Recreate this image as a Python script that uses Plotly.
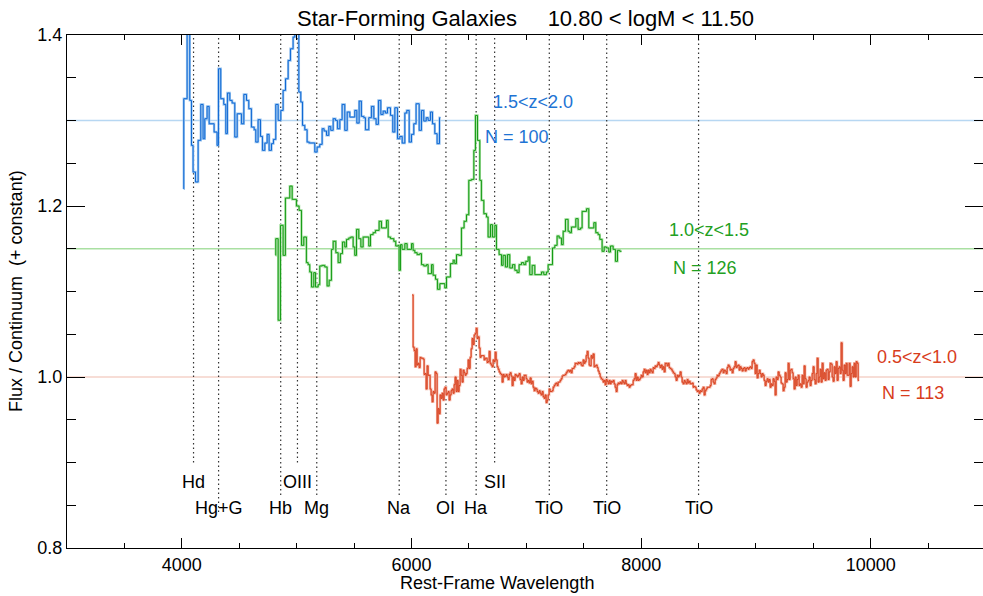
import plotly.graph_objects as go

# ---------------------------------------------------------------------------
# Stacked composite spectra (flux / continuum, offset by a constant)
# ---------------------------------------------------------------------------

# 1.5 < z < 2.0  (offset +0.30): left bin edges [A] and flux per bin
BLUE_LEFT = [4016, 4017, 4046, 4069, 4084, 4098, 4119, 4142, 4165, 4185,
             4200, 4220, 4238, 4281, 4307, 4319, 4339, 4365, 4383, 4397,
             4418, 4438, 4461, 4482, 4519, 4540, 4563, 4583, 4606, 4630,
             4644, 4664, 4685, 4702, 4723, 4743, 4760, 4781, 4798, 4818,
             4839, 4862, 4882, 4903, 4926, 4946, 4969, 4984, 5007, 5019,
             5036, 5051, 5071, 5091, 5109, 5158, 5178, 5201, 5222, 5239,
             5260, 5280, 5297, 5318, 5338, 5355, 5376, 5396, 5419, 5440,
             5463, 5506, 5524, 5544, 5564, 5585, 5599, 5628, 5651, 5672,
             5692, 5712, 5733, 5753, 5773, 5791, 5817, 5837, 5855, 5878,
             5898, 5919, 5942, 5959, 5980, 6000, 6020, 6040, 6067, 6087,
             6107, 6128, 6145, 6165, 6183, 6203, 6223, 6244]
BLUE_END = 6252
BLUE_FLUX = [1.2200, 1.3255, 1.4600, 1.3235, 1.2709, 1.2398, 1.2281, 1.2768, 1.3188, 1.2787,
             1.3021, 1.3165, 1.2962, 1.2865, 1.2709, 1.3605, 1.3255, 1.3188, 1.2846, 1.3321,
             1.3235, 1.3204, 1.2807, 1.3079, 1.2962, 1.3305, 1.3235, 1.3138, 1.2923, 1.2892,
             1.2748, 1.3009, 1.2814, 1.2651, 1.2736, 1.2838, 1.2651, 1.2729, 1.2779, 1.3188,
             1.3001, 1.3118, 1.3352, 1.3488, 1.3702, 1.3839, 1.3975, 1.4500, 1.4200, 1.3332,
             1.3216, 1.2943, 1.2892, 1.2748, 1.2737, 1.2631, 1.2690, 1.2721, 1.2904, 1.2877,
             1.2826, 1.2931, 1.2885, 1.3021, 1.3001, 1.2904, 1.3009, 1.3188, 1.2885, 1.3099,
             1.3040, 1.3118, 1.2970, 1.3227, 1.3048, 1.3033, 1.2892, 1.3033, 1.3165, 1.3021,
             1.2955, 1.3235, 1.3071, 1.3110, 1.3087, 1.3149, 1.3060, 1.2865, 1.3149, 1.2787,
             1.2814, 1.2736, 1.3087, 1.3118, 1.2748, 1.2838, 1.2962, 1.3196, 1.2885, 1.3118,
             1.2994, 1.3033, 1.3001, 1.3099, 1.2962, 1.2846, 1.2729, 1.3033]

# 1.0 < z < 1.5  (offset +0.15)
GREEN_LEFT = [4816, 4818, 4839, 4859, 4882, 4902, 4940, 4961, 4998, 5021,
              5042, 5062, 5085, 5100, 5114, 5129, 5149, 5164, 5187, 5201,
              5222, 5245, 5265, 5283, 5303, 5318, 5341, 5361, 5381, 5399,
              5419, 5434, 5454, 5471, 5492, 5506, 5521, 5541, 5559, 5579,
              5628, 5643, 5666, 5686, 5718, 5739, 5782, 5797, 5817, 5846,
              5863, 5884, 5892, 5904, 5918, 5942, 5962, 6000, 6014, 6029,
              6049, 6072, 6087, 6107, 6130, 6145, 6174, 6188, 6209, 6226,
              6247, 6290, 6305, 6339, 6363, 6377, 6392, 6412, 6435, 6458,
              6479, 6499, 6522, 6543, 6557, 6575, 6595, 6609, 6630, 6653,
              6667, 6688, 6705, 6726, 6740, 6763, 6784, 6798, 6818, 6836,
              6856, 6879, 6900, 6920, 6937, 6958, 6978, 6995, 7016, 7030,
              7051, 7074, 7132, 7152, 7175, 7190, 7228, 7248, 7268, 7286,
              7306, 7321, 7341, 7364, 7379, 7393, 7431, 7451, 7472, 7486,
              7524, 7544, 7588, 7605, 7625, 7640, 7660, 7678, 7698, 7718,
              7733, 7756, 7776, 7794, 7814]
GREEN_END = 7829
GREEN_FLUX = [1.1423, 1.1618, 1.0664, 1.1774, 1.1423, 1.2093, 1.2233, 1.2078, 1.2000, 1.1949,
              1.1540, 1.1637, 1.1338, 1.1314, 1.1228, 1.1053, 1.1221, 1.1053, 1.1080, 1.1299,
              1.1306, 1.1287, 1.1065, 1.1131, 1.1493, 1.1587, 1.1454, 1.1338, 1.1443, 1.1579,
              1.1521, 1.1610, 1.1626, 1.1637, 1.1521, 1.1423, 1.1727, 1.1618, 1.1521, 1.1637,
              1.1532, 1.1665, 1.1688, 1.1715, 1.1821, 1.1743, 1.1832, 1.1637, 1.1618, 1.1587,
              1.1532, 1.1540, 1.1248, 1.1548, 1.1493, 1.1560, 1.1493, 1.1560, 1.1482, 1.1454,
              1.1431, 1.1443, 1.1314, 1.1299, 1.1314, 1.1209, 1.1314, 1.1190, 1.1143, 1.1026,
              1.1092, 1.1042, 1.1170, 1.1326, 1.1365, 1.1326, 1.1431, 1.1423, 1.1743, 1.1821,
              1.1898, 1.2300, 1.2311, 1.2650, 1.3059, 1.2767, 1.2300, 1.2066, 1.1910, 1.1871,
              1.1637, 1.1782, 1.1637, 1.1774, 1.1493, 1.1431, 1.1306, 1.1423, 1.1287, 1.1431,
              1.1275, 1.1314, 1.1248, 1.1221, 1.1314, 1.1338, 1.1314, 1.1353, 1.1404, 1.1197,
              1.1306, 1.1197, 1.1228, 1.1197, 1.1228, 1.1314, 1.1509, 1.1540, 1.1649, 1.1626,
              1.1548, 1.1704, 1.1844, 1.1704, 1.1688, 1.1754, 1.1852, 1.1727, 1.1743, 1.1937,
              1.1968, 1.1743, 1.1805, 1.1688, 1.1665, 1.1610, 1.1470, 1.1521, 1.1509, 1.1462,
              1.1532, 1.1493, 1.1353, 1.1482, 1.1470]

# 0.5 < z < 1.0  (no offset), sampled on a regular wavelength grid
RED_START = 6005.5   # first bin edge [A]
RED_STEP = 8.709     # bin width [A]
RED_FLUX = [
    1.096, 1.035, 1.031, 1.012, 1.033, 1.014, 1.016, 1.011, 1.023, 1.022,
    1.022, 1.021, 1.003, 1.004, 0.986, 1.013, 1.002, 1.002, 0.986, 0.979,
    0.971, 0.983, 0.981, 1.006, 1.004, 0.946, 0.963, 0.957, 0.979, 0.975,
    0.981, 0.973, 0.986, 0.988, 0.979, 0.981, 0.983, 0.973, 0.979, 0.984,
    0.986, 0.981, 0.991, 1.000, 0.983, 0.996, 0.983, 0.990, 1.009, 1.002,
    0.994, 1.008, 1.005, 1.002, 1.004, 1.010, 1.020, 1.010, 1.023, 1.033,
    1.045, 1.038, 1.049, 1.051, 1.057, 1.045, 1.047, 1.034, 1.023, 1.025,
    1.025, 1.025, 1.020, 1.022, 1.022, 1.017, 1.018, 1.030, 1.016, 1.014,
    1.012, 1.020, 1.018, 1.029, 1.020, 1.012, 1.009, 1.006, 1.004, 1.003,
    0.994, 1.003, 1.000, 1.001, 1.003, 1.000, 0.997, 1.003, 1.005, 1.001,
    0.990, 1.000, 0.996, 1.003, 1.002, 1.000, 1.002, 1.004, 0.997, 0.992,
    1.000, 0.996, 1.002, 1.002, 0.998, 0.994, 0.996, 0.993, 0.999, 0.992,
    0.995, 0.988, 0.984, 0.987, 0.986, 0.983, 0.981, 0.984, 0.981, 0.979,
    0.983, 0.977, 0.975, 0.979, 0.970, 0.973, 0.979, 0.986, 0.983, 0.983,
    0.984, 0.988, 0.990, 0.992, 0.993, 0.990, 0.994, 0.994, 0.996, 0.998,
    1.001, 1.002, 1.002, 1.003, 1.005, 1.007, 1.008, 1.006, 1.008, 1.005,
    1.010, 1.010, 1.012, 1.016, 1.016, 1.015, 1.017, 1.016, 1.017, 1.014,
    1.013, 1.020, 1.016, 1.018, 1.025, 1.030, 1.022, 1.014, 1.013, 1.025,
    1.022, 1.027, 1.012, 1.013, 1.014, 1.011, 1.007, 1.004, 1.000, 0.998,
    0.997, 0.994, 0.996, 0.991, 0.997, 0.995, 0.992, 0.996, 0.992, 0.995,
    0.994, 0.996, 0.992, 0.988, 0.983, 0.991, 0.993, 0.992, 0.994, 0.992,
    0.996, 0.994, 0.992, 0.996, 0.992, 0.990, 0.991, 0.988, 0.990, 0.991,
    0.991, 0.996, 0.998, 1.004, 0.996, 1.000, 0.996, 0.997, 0.999, 1.002,
    1.000, 1.006, 1.009, 1.005, 1.008, 1.003, 1.008, 1.005, 1.009, 1.007,
    1.005, 1.011, 1.010, 1.013, 1.012, 1.014, 1.017, 1.014,
    1.011, 1.014, 1.009, 1.012, 1.006, 1.016, 1.016, 1.013, 1.016, 1.011,
    1.010, 1.009, 1.007, 1.005, 1.004, 1.000, 0.996, 1.002, 1.000, 1.002,
    1.006, 1.000, 0.994, 0.992, 0.996, 0.994, 0.992, 0.997, 0.993, 0.995,
    0.992, 0.992, 0.993, 0.988, 0.989, 0.988, 0.985, 0.983, 0.984, 0.981,
    0.984, 0.983, 0.986, 0.988, 0.979, 0.984, 0.986, 0.988, 0.988, 0.988,
    0.990, 0.997, 0.998, 0.994, 0.992, 0.997, 0.999, 1.002, 1.001, 1.004,
    1.006, 1.008, 1.009, 1.005, 1.008, 1.007, 1.004, 1.011, 1.014, 1.012,
    1.008, 1.009, 1.005, 1.010, 1.012, 1.018, 1.011, 1.013, 1.014, 1.008,
    1.012, 1.010, 1.007, 1.010, 1.011, 1.007, 1.010, 1.011, 1.009, 1.011,
    1.012, 1.010, 1.018, 1.020, 1.016, 1.004, 1.014, 0.999, 1.004, 1.008,
    1.004, 1.000, 1.004, 1.002, 0.996, 0.990, 0.995, 0.998, 0.994, 0.997,
    0.988, 0.992, 0.990, 0.998, 0.995, 0.979, 1.000, 0.997, 1.006, 1.002,
    1.000, 0.993, 0.992, 0.984, 0.988, 1.005, 0.994, 0.997, 1.016, 0.997,
    1.008, 1.009, 1.005, 0.998, 0.986, 1.000, 0.990, 0.997, 1.002, 0.990,
    0.992, 0.988, 1.002, 0.992, 1.013, 0.998, 0.988, 0.994, 0.996, 1.000,
    0.990, 0.996, 1.004, 1.012, 0.997, 0.992, 1.004, 1.022, 0.994, 1.000,
    1.009, 0.994, 1.016, 0.998, 1.005, 0.996, 1.008, 1.009, 0.997, 1.006,
    1.016, 1.015, 1.000, 0.995, 1.012, 1.004, 1.018, 0.996, 1.010, 1.012,
    1.004, 1.040, 1.008, 0.996, 1.014, 1.004, 1.016, 1.002, 1.002, 1.016,
    0.989, 1.004, 1.012, 1.000, 1.016, 1.000, 1.018, 1.016, 0.996,
]

# Continuum level of each stacked spectrum
OFFSETS = [1.30, 1.15, 1.00]

# Redshift bin labels and stack sizes
Z_LABELS = ["1.5<z<2.0", "1.0<z<1.5", "0.5<z<1.0"]
N_LABELS = ["N = 100", "N = 126", "N = 113"]
Z_LABEL_POS = [(7056, 1.322), (8589, 1.172), (10400, 1.023)]
N_LABEL_POS = [(6917, 1.281), (8554, 1.127), (10365, 0.981)]

# Spectral features: name, wavelength [A], lower end of marker, label height
LINE_NAMES = ["Hd", "Hg+G", "Hb", "OIII", "Mg", "Na", "OI", "Ha", "SII", "TiO", "TiO", "TiO"]
LINE_WAVE = [4102, 4320, 4861, 5007, 5175, 5893, 6300, 6563, 6724, 7200, 7700, 8500]
LINE_BOTTOM = [0.900, 0.842, 0.862, 0.900, 0.862, 0.862, 0.862, 0.862, 0.900, 0.862, 0.862, 0.862]
LINE_LABEL_Y = [0.877, 0.847, 0.847, 0.877, 0.847, 0.847, 0.847, 0.847, 0.877, 0.847, 0.847, 0.847]

X_RANGE = [3000, 10977]
Y_RANGE = [0.8, 1.4]

COLORS = ["#0f68d4", "#169c16", "#d63a16"]
HALOS = ["#9cc6f0", "#a8e0a3", "#f4b2a2"]
REF_COLORS = ["#b7d7f2", "#a9e0a2", "#f5d2c8"]
TEXT_COLORS = ["#1e74d4", "#22a022", "#d83c1c"]

FONT = "Liberation Sans, Arial, Helvetica, sans-serif"


def step_xy(left, end, flux):
    xs = list(left) + [end]
    ys = list(flux) + [flux[-1]]
    return xs, ys


red_edges = [RED_START + RED_STEP * i for i in range(len(RED_FLUX))]
red_end = RED_START + RED_STEP * len(RED_FLUX)

spectra = [
    step_xy(BLUE_LEFT, BLUE_END, BLUE_FLUX),
    step_xy(GREEN_LEFT, GREEN_END, GREEN_FLUX),
    step_xy(red_edges, red_end, RED_FLUX),
]

fig = go.Figure()

for (xs, ys), col, halo in zip(spectra, COLORS, HALOS):
    fig.add_trace(go.Scatter(x=xs, y=ys, mode="lines", line_shape="hv",
                             line=dict(color=halo, width=2.4),
                             hoverinfo="skip", showlegend=False))
    fig.add_trace(go.Scatter(x=xs, y=ys, mode="lines", line_shape="hv",
                             line=dict(color=col, width=1.0),
                             showlegend=False))

# trace that anchors the mirrored (top / right) tick axes
fig.add_trace(go.Scatter(x=[None], y=[None], xaxis="x2", yaxis="y2",
                         showlegend=False, hoverinfo="skip"))

shapes = []
for level, col in zip(OFFSETS, REF_COLORS):
    shapes.append(dict(type="line", xref="paper", x0=0, x1=1, yref="y",
                       y0=level, y1=level, layer="below",
                       line=dict(color=col, width=1.6)))
for wave, bottom in zip(LINE_WAVE, LINE_BOTTOM):
    shapes.append(dict(type="line", xref="x", x0=wave, x1=wave, yref="y",
                       y0=bottom, y1=Y_RANGE[1], layer="below",
                       line=dict(color="#333333", width=1.2, dash="1.5px,3px")))

annotations = []
for name, wave, ly in zip(LINE_NAMES, LINE_WAVE, LINE_LABEL_Y):
    annotations.append(dict(x=wave, y=ly, xref="x", yref="y", text=name,
                            showarrow=False, xanchor="center", yanchor="middle",
                            font=dict(family=FONT, size=18, color="black")))
for lab, pos, col in zip(Z_LABELS, Z_LABEL_POS, TEXT_COLORS):
    annotations.append(dict(x=pos[0], y=pos[1], xref="x", yref="y", text=lab,
                            showarrow=False, xanchor="center", yanchor="middle",
                            font=dict(family=FONT, size=18, color=col)))
for lab, pos, col in zip(N_LABELS, N_LABEL_POS, TEXT_COLORS):
    annotations.append(dict(x=pos[0], y=pos[1], xref="x", yref="y", text=lab,
                            showarrow=False, xanchor="center", yanchor="middle",
                            font=dict(family=FONT, size=18, color=col)))

title_text = "Star-Forming Galaxies" + "\u00a0" * 5 + "10.80 < logM < 11.50"
annotations.append(dict(x=0.5, y=1.033, xref="paper", yref="paper", text=title_text,
                        showarrow=False, xanchor="center", yanchor="middle",
                        font=dict(family=FONT, size=22, color="black")))
annotations.append(dict(x=0.469, y=-0.068, xref="paper", yref="paper",
                        text="Rest-Frame Wavelength", showarrow=False,
                        xanchor="center", yanchor="middle",
                        font=dict(family=FONT, size=18, color="black")))
annotations.append(dict(x=-0.0557, y=0.501, xref="paper", yref="paper",
                        text="Flux / Continuum\u00a0\u00a0(+ constant)", textangle=-90,
                        showarrow=False, xanchor="center", yanchor="middle",
                        font=dict(family=FONT, size=18, color="black")))

x_common = dict(range=X_RANGE, tickmode="linear", tick0=0, dtick=2000, tickformat="d",
                ticks="inside", ticklen=10, tickwidth=1, tickcolor="black",
                minor=dict(ticks="inside", ticklen=5, tickwidth=1, tickcolor="black",
                           tickmode="linear", tick0=0, dtick=500),
                showgrid=False, zeroline=False, linecolor="black", linewidth=1)
y_common = dict(range=Y_RANGE, tickmode="array", tickvals=[0.8, 1.0, 1.2, 1.4],
                ticktext=["0.8", "1.0", "1.2", "1.4"],
                ticks="inside", ticklen=18, tickwidth=1, tickcolor="black",
                minor=dict(ticks="inside", ticklen=9, tickwidth=1, tickcolor="black",
                           tickmode="array",
                           tickvals=[0.85, 0.9, 0.95, 1.05, 1.1, 1.15, 1.25, 1.3, 1.35]),
                showgrid=False, zeroline=False, linecolor="black", linewidth=1)

fig.update_layout(
    width=983, height=596,
    margin=dict(l=67, r=0, t=35, b=48, pad=0),
    paper_bgcolor="white", plot_bgcolor="white",
    showlegend=False,
    font=dict(family=FONT, size=18, color="black"),
    xaxis=dict(**x_common, showline=True, showticklabels=True,
               tickfont=dict(family=FONT, size=18, color="black")),
    xaxis2=dict(**x_common, overlaying="x", side="top", anchor="y",
                showline=True, showticklabels=False),
    yaxis=dict(**y_common, showline=True, showticklabels=True,
               tickfont=dict(family=FONT, size=18, color="black")),
    yaxis2=dict(**y_common, overlaying="y", side="right", anchor="x",
                showline=False, showticklabels=False),
    shapes=shapes,
    annotations=annotations,
)

fig.write_html("out.html")
